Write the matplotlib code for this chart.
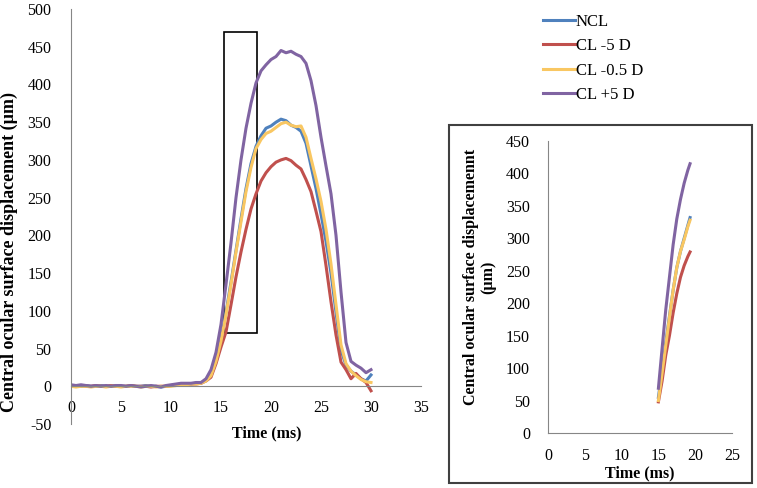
import matplotlib.pyplot as plt
from matplotlib.patches import Rectangle

# time axis (ms) of the main chart
time = [0, 0.5, 1, 1.5, 2, 2.5, 3, 3.5, 4, 4.5, 5, 5.5, 6, 6.5, 7, 7.5, 8, 8.5, 9, 9.5,
        10, 10.5, 11, 11.5, 12, 12.5, 13, 13.5, 14, 14.5, 15, 15.5, 16, 16.5, 17, 17.5,
        18, 18.5, 19, 19.5, 20, 20.5, 21, 21.5, 22, 22.5, 23, 23.5, 24, 24.5, 25, 25.5,
        26, 26.5, 27, 27.5, 28, 28.5, 29, 29.5, 30]

ncl = [0, 1, 0, 1, 0, 0, 1, 0, 0, 1, 0, 0, 1, 0, 0, 1, 0, 0, -1, 0,
       1, 2, 3, 3, 3, 4, 4, 8, 15, 35, 62, 98, 138, 180, 222, 262,
       295, 318, 332, 342, 345, 350, 354, 352, 346, 343, 338, 322, 292, 262, 228, 192,
       150, 98, 48, 28, 20, 15, 10, 7, 15]
cl_m5 = [0, 0, 1, 0, 0, 1, 0, 0, 1, 0, 0, 0, 1, 0, 0, 0, -1, 0, 0, 0,
         1, 1, 2, 3, 3, 3, 4, 7, 12, 30, 52, 72, 108, 145, 178, 208,
         235, 255, 272, 283, 291, 297, 300, 302, 299, 293, 288, 274, 258, 232, 205, 160,
         112, 68, 32, 22, 10, 17, 10, 5, -6]
cl_m05 = [0, -1, 0, 0, -1, 0, 0, -1, 0, 0, -1, 0, 0, 0, -1, 0, 0, -1, 0, 0,
          0, 1, 2, 2, 3, 3, 4, 7, 14, 33, 60, 95, 135, 178, 218, 258,
          290, 315, 327, 335, 338, 343, 348, 350, 346, 344, 345, 330, 302, 275, 245, 208,
          162, 108, 55, 30, 20, 14, 9, 6, 5]
cl_p5 = [2, 1, 2, 1, 0, 1, 0, 1, 0, 1, 1, 0, 1, 0, -1, 0, 1, 0, -1, 1,
         2, 3, 4, 4, 4, 5, 5, 10, 22, 45, 82, 135, 190, 250, 300, 342,
         375, 402, 418, 426, 433, 437, 445, 442, 444, 440, 437, 428, 405, 372, 330, 292,
         255, 200, 125, 58, 33, 28, 24, 18, 22]

# inset: zoom of the rising part
time_in = [15, 15.5, 16, 16.5, 17, 17.5, 18, 18.5, 19, 19.3]
ncl_in = [55, 95, 140, 180, 220, 255, 280, 300, 320, 332]
cl_m5_in = [48, 80, 120, 150, 185, 215, 240, 258, 272, 279]
cl_m05_in = [50, 92, 135, 178, 220, 255, 280, 298, 318, 328]
cl_p5_in = [69, 130, 190, 240, 290, 330, 360, 385, 405, 415]

labels = ['NCL', 'CL -5 D', 'CL -0.5 D', 'CL +5 D']
colors = ['#4F81BD', '#C0504D', '#F9C762', '#8064A2']

plt.rcParams['font.family'] = ['Liberation Serif', 'DejaVu Serif']
plt.rcParams['font.size'] = 11.5
plt.rcParams['axes.unicode_minus'] = False
grey = '#868686'

fig = plt.figure(figsize=(7.57, 4.88), dpi=100)

# main chart
ax = fig.add_axes([71 / 757, 1 - 424 / 488, 350 / 757, 415 / 488])
for y, lab, c in zip([ncl, cl_m5, cl_m05, cl_p5], labels, colors):
    ax.plot(time, y, color=c, lw=2.2, label=lab)
ax.set_xlim(0, 35)
ax.set_ylim(-50, 500)
ax.set_xticks(range(0, 36, 5))
ax.set_yticks(range(-50, 501, 50))
ax.spines['top'].set_visible(False)
ax.spines['right'].set_visible(False)
ax.spines['bottom'].set_position(('data', 0))
for s in ['left', 'bottom']:
    ax.spines[s].set_color(grey)
ax.tick_params(axis='x', length=0, pad=10)
ax.tick_params(axis='y', length=0, pad=14)
ax.set_ylabel('Central ocular surface displacement (µm)', fontweight='bold', fontsize=13)
ax.yaxis.set_label_coords(-0.152, 0.414)
ax.text(0.56, -0.022, 'Time (ms)', transform=ax.transAxes, fontweight='bold',
        ha='center', va='center')
ax.add_patch(Rectangle((15.3, 70), 3.3, 399, fill=False, edgecolor='black', lw=1.2))

handles, _ = ax.get_legend_handles_labels()
fig.legend(handles, labels, loc='upper left', bbox_to_anchor=(543 / 757, 1 - 14 / 488),
           frameon=False, borderpad=0, borderaxespad=0, handlelength=1.9,
           handletextpad=0.05, labelspacing=0.5, fontsize=12)

# inset box and chart
fig.add_artist(Rectangle((449 / 757, 1 - 483 / 488), 303 / 757, 358 / 488,
                         transform=fig.transFigure, fill=False, edgecolor='#404040', lw=1.5))
axi = fig.add_axes([548 / 757, 1 - 433 / 488, 184 / 757, 292 / 488])
for y, c in zip([ncl_in, cl_m5_in, cl_m05_in, cl_p5_in], colors):
    axi.plot(time_in, y, color=c, lw=2.2)
axi.set_xlim(0, 25)
axi.set_ylim(0, 450)
axi.set_xticks(range(0, 26, 5))
axi.set_yticks(range(0, 451, 50))
axi.spines['top'].set_visible(False)
axi.spines['right'].set_visible(False)
for s in ['left', 'bottom']:
    axi.spines[s].set_color(grey)
axi.tick_params(axis='x', length=0, pad=11)
axi.tick_params(axis='y', length=0, pad=13)
axi.set_ylabel('Central ocular surface displacemennt\n(µm)', fontweight='bold',
               linespacing=1.1)
axi.yaxis.set_label_coords(-0.28, 0.533)
axi.text(0.5, -0.137, 'Time (ms)', transform=axi.transAxes, fontweight='bold',
         ha='center', va='center')

fig.savefig('out.png', dpi=100)
